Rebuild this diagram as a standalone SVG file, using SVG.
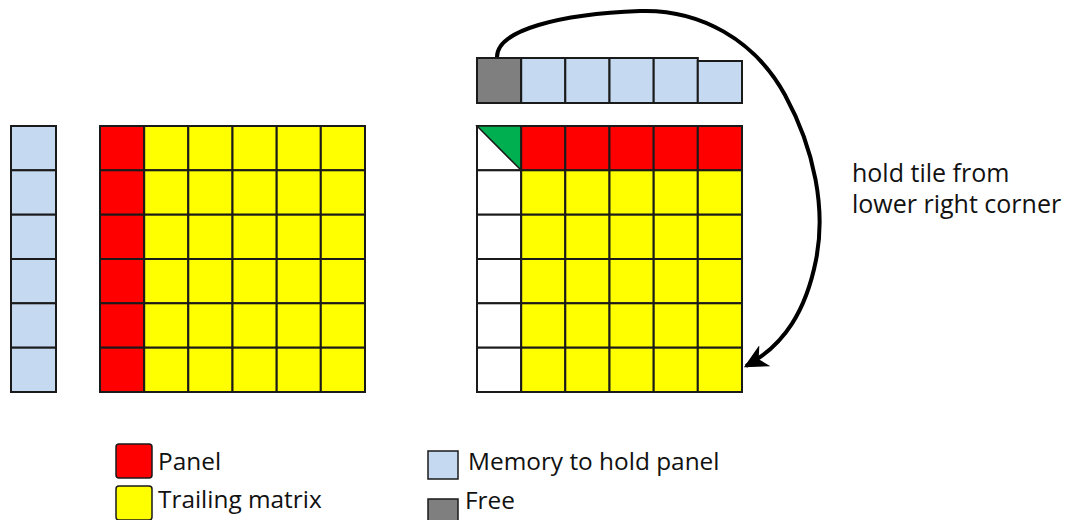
<svg xmlns="http://www.w3.org/2000/svg" width="1065" height="520" viewBox="0 0 1065 520">
<style>
rect{stroke:#1a1a1a;stroke-width:2}
.m{fill:#c5d9f1}
.r{fill:#ff0000}
.y{fill:#ffff00}
.w{fill:#ffffff}
.g{fill:#7f7f7f}
.t{font-family:"Open Sans","Liberation Sans",sans-serif;fill:#111}
.lg rect{stroke-width:1.5}
</style>
<defs>
<marker id="ah" viewBox="0 0 10 10" refX="9" refY="5" markerWidth="6" markerHeight="6" orient="auto" markerUnits="strokeWidth">
<path d="M0,0 L10,5 L0,10 L3,5 Z" fill="#000"/>
</marker>
</defs>
<g id="memory-left">
<rect class="m" x="11" y="126" width="45" height="44.3"/>
<rect class="m" x="11" y="170.3" width="45" height="44.4"/>
<rect class="m" x="11" y="214.7" width="45" height="44.3"/>
<rect class="m" x="11" y="259" width="45" height="44.3"/>
<rect class="m" x="11" y="303.3" width="45" height="44.4"/>
<rect class="m" x="11" y="347.7" width="45" height="44.3"/>
</g>
<g id="matrix-left">
<rect class="r" x="100" y="126" width="44.2" height="44.3"/><rect class="y" x="144.2" y="126" width="44.1" height="44.3"/><rect class="y" x="188.3" y="126" width="44.2" height="44.3"/><rect class="y" x="232.5" y="126" width="44.2" height="44.3"/><rect class="y" x="276.7" y="126" width="44.1" height="44.3"/><rect class="y" x="320.8" y="126" width="44.2" height="44.3"/>
<rect class="r" x="100" y="170.3" width="44.2" height="44.4"/><rect class="y" x="144.2" y="170.3" width="44.1" height="44.4"/><rect class="y" x="188.3" y="170.3" width="44.2" height="44.4"/><rect class="y" x="232.5" y="170.3" width="44.2" height="44.4"/><rect class="y" x="276.7" y="170.3" width="44.1" height="44.4"/><rect class="y" x="320.8" y="170.3" width="44.2" height="44.4"/>
<rect class="r" x="100" y="214.7" width="44.2" height="44.3"/><rect class="y" x="144.2" y="214.7" width="44.1" height="44.3"/><rect class="y" x="188.3" y="214.7" width="44.2" height="44.3"/><rect class="y" x="232.5" y="214.7" width="44.2" height="44.3"/><rect class="y" x="276.7" y="214.7" width="44.1" height="44.3"/><rect class="y" x="320.8" y="214.7" width="44.2" height="44.3"/>
<rect class="r" x="100" y="259" width="44.2" height="44.3"/><rect class="y" x="144.2" y="259" width="44.1" height="44.3"/><rect class="y" x="188.3" y="259" width="44.2" height="44.3"/><rect class="y" x="232.5" y="259" width="44.2" height="44.3"/><rect class="y" x="276.7" y="259" width="44.1" height="44.3"/><rect class="y" x="320.8" y="259" width="44.2" height="44.3"/>
<rect class="r" x="100" y="303.3" width="44.2" height="44.4"/><rect class="y" x="144.2" y="303.3" width="44.1" height="44.4"/><rect class="y" x="188.3" y="303.3" width="44.2" height="44.4"/><rect class="y" x="232.5" y="303.3" width="44.2" height="44.4"/><rect class="y" x="276.7" y="303.3" width="44.1" height="44.4"/><rect class="y" x="320.8" y="303.3" width="44.2" height="44.4"/>
<rect class="r" x="100" y="347.7" width="44.2" height="44.3"/><rect class="y" x="144.2" y="347.7" width="44.1" height="44.3"/><rect class="y" x="188.3" y="347.7" width="44.2" height="44.3"/><rect class="y" x="232.5" y="347.7" width="44.2" height="44.3"/><rect class="y" x="276.7" y="347.7" width="44.1" height="44.3"/><rect class="y" x="320.8" y="347.7" width="44.2" height="44.3"/>
</g>
<g id="memory-top">
<rect class="g" x="477" y="58" width="44.2" height="45"/>
<rect class="m" x="521.2" y="58" width="44.1" height="45"/>
<rect class="m" x="565.3" y="58" width="44.2" height="45"/>
<rect class="m" x="609.5" y="58" width="44.2" height="45"/>
<rect class="m" x="653.7" y="58" width="44.1" height="45"/>
<rect class="m" x="697.8" y="61" width="44.2" height="42"/>
</g>
<g id="matrix-right">
<rect class="w" x="477" y="126" width="44.2" height="44.3"/>
<path d="M477,126 L521.2,126 L521.2,170.3 Z" fill="#00b050" stroke="#1a1a1a" stroke-width="1.5"/>
<rect class="r" x="521.2" y="126" width="44.1" height="44.3"/><rect class="r" x="565.3" y="126" width="44.2" height="44.3"/><rect class="r" x="609.5" y="126" width="44.2" height="44.3"/><rect class="r" x="653.7" y="126" width="44.1" height="44.3"/><rect class="r" x="697.8" y="126" width="44.2" height="44.3"/>
<rect class="w" x="477" y="170.3" width="44.2" height="44.4"/><rect class="y" x="521.2" y="170.3" width="44.1" height="44.4"/><rect class="y" x="565.3" y="170.3" width="44.2" height="44.4"/><rect class="y" x="609.5" y="170.3" width="44.2" height="44.4"/><rect class="y" x="653.7" y="170.3" width="44.1" height="44.4"/><rect class="y" x="697.8" y="170.3" width="44.2" height="44.4"/>
<rect class="w" x="477" y="214.7" width="44.2" height="44.3"/><rect class="y" x="521.2" y="214.7" width="44.1" height="44.3"/><rect class="y" x="565.3" y="214.7" width="44.2" height="44.3"/><rect class="y" x="609.5" y="214.7" width="44.2" height="44.3"/><rect class="y" x="653.7" y="214.7" width="44.1" height="44.3"/><rect class="y" x="697.8" y="214.7" width="44.2" height="44.3"/>
<rect class="w" x="477" y="259" width="44.2" height="44.3"/><rect class="y" x="521.2" y="259" width="44.1" height="44.3"/><rect class="y" x="565.3" y="259" width="44.2" height="44.3"/><rect class="y" x="609.5" y="259" width="44.2" height="44.3"/><rect class="y" x="653.7" y="259" width="44.1" height="44.3"/><rect class="y" x="697.8" y="259" width="44.2" height="44.3"/>
<rect class="w" x="477" y="303.3" width="44.2" height="44.4"/><rect class="y" x="521.2" y="303.3" width="44.1" height="44.4"/><rect class="y" x="565.3" y="303.3" width="44.2" height="44.4"/><rect class="y" x="609.5" y="303.3" width="44.2" height="44.4"/><rect class="y" x="653.7" y="303.3" width="44.1" height="44.4"/><rect class="y" x="697.8" y="303.3" width="44.2" height="44.4"/>
<rect class="w" x="477" y="347.7" width="44.2" height="44.3"/><rect class="y" x="521.2" y="347.7" width="44.1" height="44.3"/><rect class="y" x="565.3" y="347.7" width="44.2" height="44.3"/><rect class="y" x="609.5" y="347.7" width="44.2" height="44.3"/><rect class="y" x="653.7" y="347.7" width="44.1" height="44.3"/><rect class="y" x="697.8" y="347.7" width="44.2" height="44.3"/>
</g>
<g id="connectors">
<path d="M497,57 C497,30 560,14 640,11 C700,9 755,40 785,95 C815,150 826,210 816,260 C806,310 785,345 746,366" fill="none" stroke="#000" stroke-width="4" marker-end="url(#ah)"/>
</g>
<g id="label">
<text class="t" x="852" y="182" font-size="25">hold tile from</text>
<text class="t" x="852" y="213" font-size="25">lower right corner</text>
</g>
<g id="legend" class="lg">
<g id="legend-panel"><rect x="116" y="444" width="36" height="34" rx="3" fill="#ff0000" stroke="none"/><text class="t" x="158" y="470" font-size="24.4">Panel</text></g>
<g id="legend-trailing"><rect x="116" y="486" width="36" height="34" rx="3" fill="#ffff00" stroke="none"/><text class="t" x="158" y="508" font-size="24.4">Trailing matrix</text></g>
<g id="legend-memory"><rect x="428" y="451" width="30" height="28" fill="#c5d9f1"/><text class="t" x="468" y="470" font-size="24.4">Memory to hold panel</text></g>
<g id="legend-free"><rect x="428" y="499" width="30" height="28" fill="#7f7f7f"/><text class="t" x="465" y="509" font-size="24.4">Free</text></g>
</g>
</svg>
